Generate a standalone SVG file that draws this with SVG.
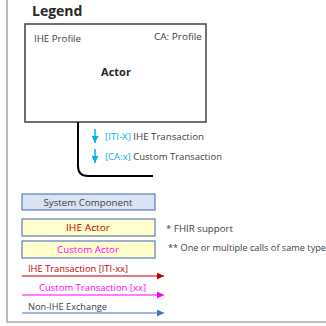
<svg xmlns="http://www.w3.org/2000/svg" width="326" height="326" viewBox="0 0 326 326">
<defs>
<style>
text{font-family:"Open Sans","Liberation Sans",sans-serif;}
.s{font-size:9px;fill:#404040;}
.b{font-weight:bold;fill:#262626;}
.cy{fill:#00b0f0;}
.box{stroke:#5b7bbd;stroke-width:1.2;}
</style>
<marker id="aR" viewBox="0 0 10 10" refX="10" refY="5" markerWidth="7" markerHeight="7" markerUnits="userSpaceOnUse" orient="auto"><path d="M0,0L10,5L0,10z" fill="#c00000"/></marker>
<marker id="aM" viewBox="0 0 10 10" refX="10" refY="5" markerWidth="7" markerHeight="7" markerUnits="userSpaceOnUse" orient="auto"><path d="M0,0L10,5L0,10z" fill="#ff00ff"/></marker>
<marker id="aB" viewBox="0 0 10 10" refX="10" refY="5" markerWidth="7" markerHeight="7" markerUnits="userSpaceOnUse" orient="auto"><path d="M0,0L10,5L0,10z" fill="#4472c4"/></marker>
<marker id="aC" viewBox="0 0 10 10" refX="10" refY="5" markerWidth="7" markerHeight="7" markerUnits="userSpaceOnUse" orient="auto"><path d="M0,0L10,5L0,10z" fill="#00b0f0"/></marker>
</defs>
<rect width="326" height="326" fill="#ffffff"/>
<path d="M7,-2V322H330" fill="none" stroke="#a6a6a6" stroke-width="1.5"/>
<text x="32" y="16" class="b" font-size="14">Legend</text>

<g id="actor-box">
<rect x="25" y="24" width="181" height="98" fill="#ffffff" stroke="#404040" stroke-width="1.5"/>
<text x="34" y="42" class="s" font-size="8" textLength="47" lengthAdjust="spacingAndGlyphs">IHE Profile</text>
<text x="202" y="40" class="s" font-size="8" text-anchor="end" textLength="48" lengthAdjust="spacingAndGlyphs">CA: Profile</text>
<text x="116" y="76" class="b" font-size="11" text-anchor="middle">Actor</text>
</g>

<g id="connectors">
<path d="M78,122V166Q78,176 88,176H153" fill="none" stroke="#000000" stroke-width="2"/>
<line x1="95" y1="129" x2="95" y2="143" stroke="#00b0f0" stroke-width="1.5" marker-end="url(#aC)"/>
<line x1="95" y1="149" x2="95" y2="163" stroke="#00b0f0" stroke-width="1.5" marker-end="url(#aC)"/>
<line x1="22" y1="276" x2="164" y2="276" stroke="#c00000" stroke-width="1.2" marker-end="url(#aR)"/>
<line x1="22" y1="295" x2="164" y2="295" stroke="#ff00ff" stroke-width="1.2" marker-end="url(#aM)"/>
<line x1="22" y1="313" x2="164" y2="313" stroke="#4472c4" stroke-width="1.2" marker-end="url(#aB)"/>
</g>
<text x="105" y="140" class="s" textLength="99" lengthAdjust="spacingAndGlyphs"><tspan class="cy">[ITI-X]</tspan> IHE Transaction</text>
<text x="105" y="160" class="s" textLength="117" lengthAdjust="spacingAndGlyphs"><tspan class="cy">[CA:x]</tspan> Custom Transaction</text>

<g id="system-component">
<rect x="22" y="194" width="133" height="16" fill="#dae3f3" class="box"/>
<text x="88" y="205.5" class="s" text-anchor="middle" textLength="89" lengthAdjust="spacingAndGlyphs">System Component</text>
</g>
<g id="ihe-actor">
<rect x="22" y="219" width="133" height="17" fill="#ffffcc" class="box"/>
<text x="88" y="230.5" font-size="9" fill="#c00000" text-anchor="middle" textLength="44" lengthAdjust="spacingAndGlyphs">IHE Actor</text>
</g>
<g id="custom-actor">
<rect x="22" y="241" width="133" height="17" fill="#ffffcc" class="box"/>
<text x="88" y="252.5" font-size="9" fill="#ff00ff" text-anchor="middle" textLength="62" lengthAdjust="spacingAndGlyphs">Custom Actor</text>
</g>

<text x="166" y="232" class="s" textLength="67" lengthAdjust="spacingAndGlyphs">* FHIR support</text>
<text x="168" y="251" class="s" textLength="158" lengthAdjust="spacingAndGlyphs">** One or multiple calls of same type</text>

<text x="28" y="272" font-size="9" fill="#c00000" textLength="100" lengthAdjust="spacingAndGlyphs">IHE Transaction [ITI-xx]</text>
<text x="39" y="291" font-size="9" fill="#ff00ff" textLength="107" lengthAdjust="spacingAndGlyphs">Custom  Transaction [xx]</text>
<text x="28" y="310" class="s" textLength="79" lengthAdjust="spacingAndGlyphs">Non-IHE Exchange</text>
</svg>
